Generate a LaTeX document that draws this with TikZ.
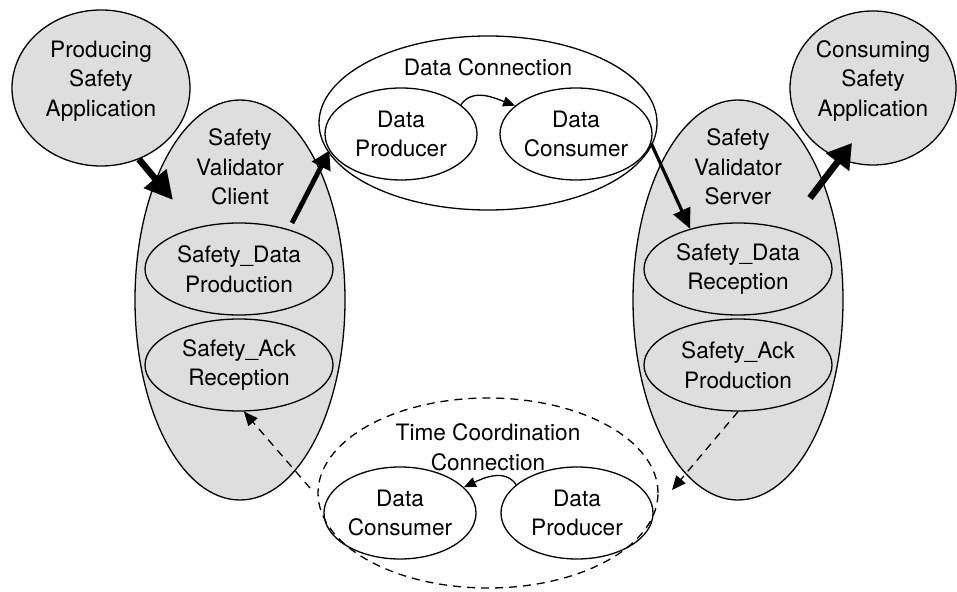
\documentclass[tikz,border=0pt]{standalone}
\usepackage{fontspec}
\setmainfont{TeX Gyre Heros}
\usetikzlibrary{shapes.geometric,arrows.meta}
\definecolor{shade}{gray}{0.87}

\begin{document}
\begin{tikzpicture}[x=0.5pt,y=-0.5pt,
    every node/.style={font=\fontsize{11.3}{14.8}\selectfont, align=center, inner sep=0pt},
    oval/.style={ellipse, draw, line width=0.65pt},
    app/.style={oval, fill=shade},
    part/.style={oval, fill=shade, minimum width=94pt, minimum height=46pt},
    end/.style={oval, minimum width=76pt, minimum height=46pt},
    thin/.style={line width=0.65pt, -{Triangle[length=6pt,width=5pt]}},
    dashflow/.style={line width=0.65pt, -{Triangle[length=7pt,width=6pt]}, dash pattern=on 4pt off 3pt},
    flow/.style={line width=#1}]
    \useasboundingbox (0,0) rectangle (957,592);

    % Aplicaciones
    \node[app, minimum width=89pt, minimum height=78pt,
        label={[yshift=3.5pt]center:Producing\\Safety\\Application}] (prodapp) at (101,88) {};
    \node[app, minimum width=83pt, minimum height=77pt,
        label={[yshift=3.5pt]center:Consuming\\Safety\\Application}] (consapp) at (873,88) {};

    % Validadores
    \node[app, minimum width=105pt, minimum height=200pt] (client) at (240,300) {};
    \node (clientname) at (240,167) {Safety\\Validator\\Client};
    \node[part] (sdprod) at (239,269) {Safety\_Data\\Production};
    \node[part] (ackrecv) at (239,365) {Safety\_Ack\\Reception};

    \node[app, minimum width=105pt, minimum height=200pt] (server) at (738,300) {};
    \node (servername) at (738,167) {Safety\\Validator\\Server};
    \node[part] (sdrecv) at (738,269) {Safety\_Data\\Reception};
    \node[part] (ackprod) at (738,365) {Safety\_Ack\\Production};

    % Conexion de datos
    \node[oval, minimum width=169pt, minimum height=87pt] (dataconn) at (488,123) {};
    \node (dcname) at (488,67) {Data Connection};
    \node[end] (dprod) at (401,134) {Data\\Producer};
    \node[end] (dcons) at (576,134) {Data\\Consumer};
    \draw[thin] (dprod.26) to[out=55,in=160] (dcons.155);

    % Conexion de tiempo
    \node[oval, dash pattern=on 4pt off 3pt, minimum width=170pt, minimum height=95pt] (timeconn) at (488,493) {};
    \node (tcname) at (488,447) {Time Coordination\\Connection};
    \node[end] (tcons) at (400,513) {Data\\Consumer};
    \node[end] (tprod) at (577,513) {Data\\Producer};
    \draw[thin] (tprod.155) to[out=125,in=25] (tcons.22);

    % Flechas
    \coordinate (clientin) at (173,200);
    \coordinate (clientout) at (292,223);
    \coordinate (serverout) at (810,198);
    \coordinate (consin) at (852,143);
    \coordinate (tcin) at (672,490);
    \coordinate (tcout) at (310,488);

    \draw[flow=3.3pt, -{Triangle[length=14pt,width=14pt]}] (prodapp.-62) -- (clientin);
    \draw[flow=2.4pt, -{Triangle[length=9pt,width=10pt]}] (clientout) -- (dprod.193);
    \draw[flow=1.6pt, -{Triangle[length=10pt,width=9pt]}] (dcons.-7) -- (sdrecv.140);
    \draw[flow=3.3pt, -{Triangle[length=12pt,width=14pt]}] (serverout) -- (consin);

    \draw[dashflow] (ackprod.south) -- (tcin);
    \draw[dashflow] (tcout) -- (ackrecv.-84);
\end{tikzpicture}
\end{document}
